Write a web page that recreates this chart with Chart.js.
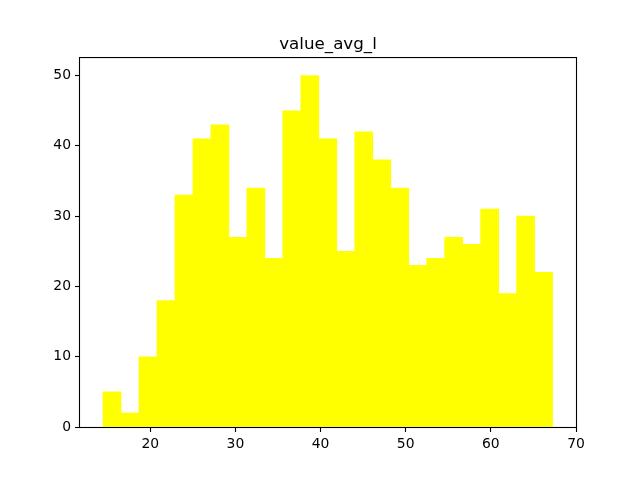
<!DOCTYPE html>
<html>
<head>
<meta charset="utf-8">
<script src="https://cdn.jsdelivr.net/npm/chart.js@4/dist/chart.umd.min.js"></script>
<style>
  body { margin: 0; background: #fff; }
  canvas { display: block; }
</style>
</head>
<body>
<canvas id="hist" width="640" height="480"></canvas>
<script>
// histogram of value_avg_l, 25 bins
const binStart = 14.45;
const binWidth = 2.112;
const counts = [5, 2, 10, 18, 33, 41, 43, 27, 34, 24, 45, 50, 41, 25, 42, 38, 34, 23, 24, 27, 26, 31, 19, 30, 22];
const xTicks = [20, 30, 40, 50, 60, 70];
const yTicks = [0, 10, 20, 30, 40, 50];

const FONT = 'DejaVu Sans';

const points = counts.map((c, i) => ({ x: binStart + binWidth * (i + 0.5), y: c }));

const frame = {
  id: 'frame',
  afterDraw(chart) {
    const { ctx, chartArea: a } = chart;
    ctx.save();
    ctx.strokeStyle = '#000';
    ctx.lineWidth = 1.1;
    ctx.strokeRect(a.left - 0.5, a.top - 0.5, a.right - a.left + 1, a.bottom - a.top + 1);
    ctx.restore();
  },
};

const tickStyle = {
  color: '#000',
  font: { family: FONT, size: 13.9 },
};

const tickGrid = {
  offset: false,
  drawOnChartArea: false,
  drawTicks: true,
  tickLength: 5,
  tickColor: '#000',
  tickWidth: 1.1,
};

new Chart(document.getElementById('hist'), {
  type: 'bar',
  data: {
    datasets: [{
      label: 'value_avg_l',
      data: points,
      backgroundColor: '#ffff00',
      borderWidth: 0,
      barPercentage: 1,
      categoryPercentage: 1,
    }],
  },
  options: {
    responsive: false,
    animation: false,
    devicePixelRatio: 1,
    layout: { padding: { left: 0, right: 64, top: 0, bottom: 0 } },
    plugins: {
      legend: { display: false },
      tooltip: { enabled: false },
      title: {
        display: true,
        text: 'value_avg_l',
        fullSize: false,
        color: '#000',
        font: { family: FONT, size: 16.7, weight: 'normal', lineHeight: 1.2 },
        padding: { top: 35, bottom: 3 },
      },
    },
    scales: {
      x: {
        type: 'linear',
        offset: false,
        min: 11.75,
        max: 70,
        afterFit: (s) => { s.height = 53; },
        afterBuildTicks: (s) => { s.ticks = xTicks.map((v) => ({ value: v })); },
        grid: tickGrid,
        border: { display: false },
        ticks: { ...tickStyle, padding: 4, maxRotation: 0 },
      },
      y: {
        min: 0,
        max: 52.5,
        afterFit: (s) => { s.width = 80; },
        afterBuildTicks: (s) => { s.ticks = yTicks.map((v) => ({ value: v })); },
        grid: tickGrid,
        border: { display: false },
        ticks: { ...tickStyle, padding: 4 },
      },
    },
  },
  plugins: [frame],
});
</script>
</body>
</html>
